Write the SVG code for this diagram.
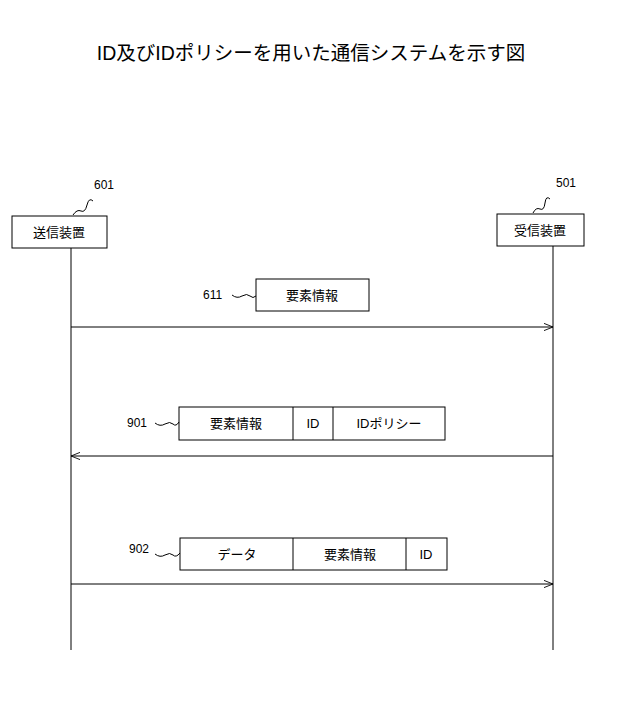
<svg xmlns="http://www.w3.org/2000/svg" width="622" height="724" viewBox="0 0 622 724">
<defs>
<style>
text{font-family:"Liberation Sans","Noto Sans CJK JP",sans-serif;fill:#000}
.b{fill:#fff;stroke:#000;stroke-width:1}
.l{stroke:#000;stroke-width:1;fill:none}
.t{font-size:13px;text-anchor:middle}
.n{font-size:12px}
</style>
<marker id="a" viewBox="0 0 10 10" refX="10" refY="5" markerWidth="9" markerHeight="9" orient="auto-start-reverse"><path d="M0,1 L10,5 L0,9" fill="none" stroke="#000"/></marker>
</defs>
<rect width="622" height="724" fill="#fff"/>
<text x="311" y="60" font-size="19.5" text-anchor="middle">ID及びIDポリシーを用いた通信システムを示す図</text>
<g id="sender">
<rect class="b" x="12" y="216" width="95" height="32"/>
<text class="t" x="59" y="237">送信装置</text>
<text class="n" x="94" y="189">601</text>
<path class="l" d="M73,215 q4,-6 8,-4 t6,-6 t6,-4"/>
</g>
<g id="receiver">
<rect class="b" x="497" y="214" width="87" height="32"/>
<text class="t" x="540" y="235">受信装置</text>
<text class="n" x="556" y="187">501</text>
<path class="l" d="M533,213 q3,-6 7,-4 t5,-6 t5,-4"/>
</g>
<g id="msg611">
<rect class="b" x="256" y="279" width="113" height="32"/>
<text class="t" x="312" y="300">要素情報</text>
<text class="n" x="203" y="299">611</text>
<path class="l" d="M232,295 q5,4 10,1 t8,0 t6,0"/>
</g>
<g id="msg901">
<rect class="b" x="179" y="407" width="266" height="33"/>
<path class="l" d="M293,407 V440 M333,407 V440"/>
<text class="t" x="236" y="428">要素情報</text>
<text class="t" x="313" y="428">ID</text>
<text class="t" x="389" y="428">IDポリシー</text>
<text class="n" x="127" y="427">901</text>
<path class="l" d="M155,423 q5,4 10,1 t8,0 t6,-2"/>
</g>
<g id="msg902">
<rect class="b" x="180" y="538" width="267" height="32"/>
<path class="l" d="M293,538 V570 M406,538 V570"/>
<text class="t" x="237" y="559">データ</text>
<text class="t" x="350" y="559">要素情報</text>
<text class="t" x="426" y="559">ID</text>
<text class="n" x="129" y="553">902</text>
<path class="l" d="M155,554 q5,4 10,1 t8,0 t7,-2"/>
</g>
<g id="connectors">
<path class="l" d="M71,248 V650 M553,246 V650"/>
<path class="l" d="M71,327 H553" marker-end="url(#a)"/>
<path class="l" d="M553,456 H71" marker-end="url(#a)"/>
<path class="l" d="M71,584 H553" marker-end="url(#a)"/>
</g>
</svg>
